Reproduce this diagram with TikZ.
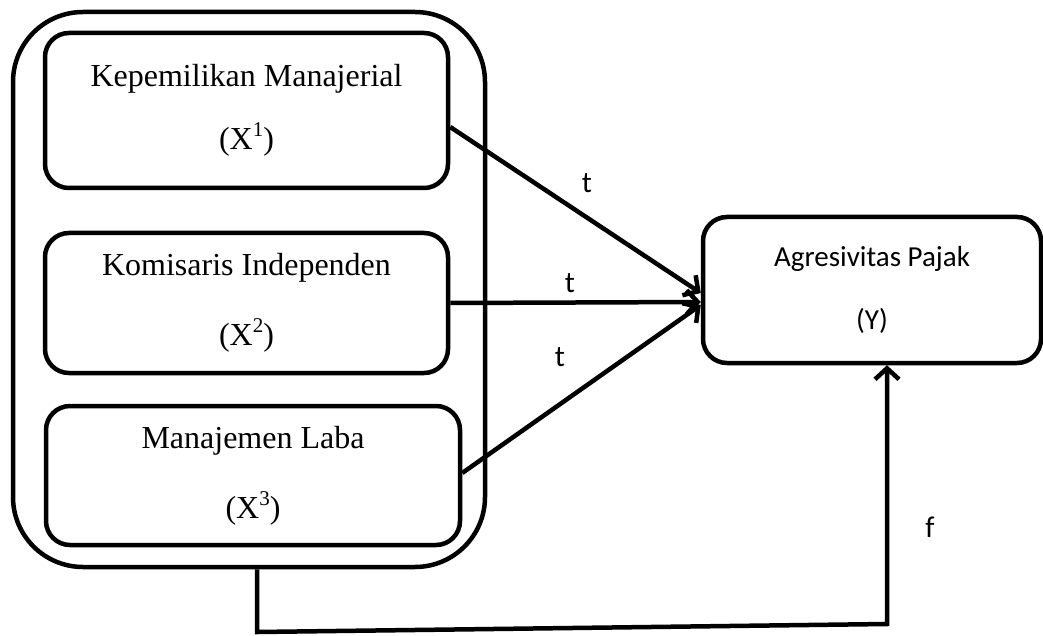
\documentclass[tikz,border=0pt]{standalone}
\usepackage{fontspec}
\setmainfont{Liberation Serif}
\newfontfamily\calfont{Carlito}
\usetikzlibrary{arrows.meta,calc}
\newcommand{\mysup}[1]{\raisebox{0.4em}{\fontsize{21}{21}\selectfont #1}}
\begin{document}
\begin{tikzpicture}[x=1pt,y=-1pt,line width=4.5pt,
  box/.style={draw,rectangle,rounded corners=24pt,inner sep=0pt,align=center},
  serifbox/.style={box,font=\fontsize{32}{#1}\selectfont},
  lbl/.style={font=\calfont\fontsize{30}{32}\selectfont,inner sep=0pt},
  arr/.style={-{Straight Barb[length=11pt,width=24pt]}}]
\useasboundingbox (0,0) rectangle (1043,636);
\node[draw,rectangle,rounded corners=70pt,minimum width=472pt,minimum height=555pt,inner sep=0pt] (outer) at (249,289.5) {};
\node[serifbox=63,minimum width=403pt,minimum height=155pt] (b1) at (246.5,110.5) {Kepemilikan Manajerial\\(X\mysup{1})};
\node[serifbox=70,minimum width=403pt,minimum height=140pt] (b2) at (246.5,303) {Komisaris Independen\\(X\mysup{2})};
\node[serifbox=70,minimum width=414pt,minimum height=139pt] (b3) at (253,475.5) {Manajemen Laba\\(X\mysup{3})};
\node[box,font=\calfont\fontsize{29}{63}\selectfont,minimum width=338pt,minimum height=146pt] (y) at (872,290) {Agresivitas Pajak\\(Y)};
\draw[arr] ([yshift=-16.5pt]b1.east) -- ([yshift=-3pt]y.west);
\draw[arr] (b2.east) -- ([yshift=-12pt]y.west);
\draw[arr] ([yshift=2.5pt]b3.east) -- ([yshift=-15pt]y.west);
\coordinate (c1) at (257,632);
\coordinate (c2) at (887,624);
\draw[arr] ([xshift=8pt]outer.south) -- (c1) -- (c2) -- ([xshift=15pt]y.south);
\node[lbl] (t1) at (587,183) {t};
\node[lbl] (t2) at (570,283) {t};
\node[lbl] (t3) at (560,357) {t};
\node[lbl] (f) at (930,527) {f};
\end{tikzpicture}
\end{document}
